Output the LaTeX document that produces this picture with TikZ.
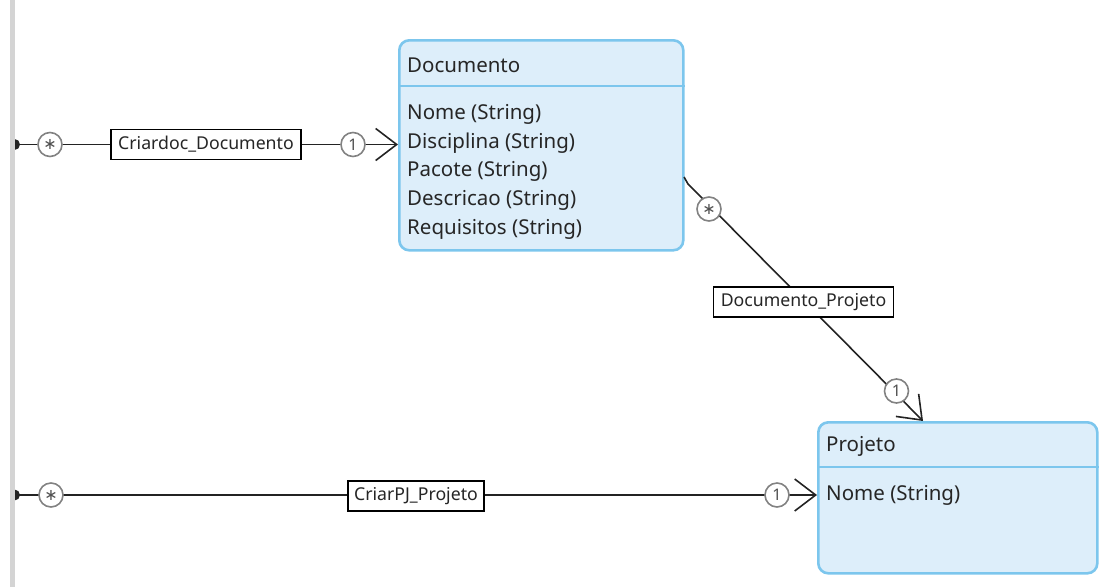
\documentclass[tikz,border=0pt]{standalone}
\usepackage{fontspec}
\setmainfont{Noto Sans}
\newfontfamily\symfont{DejaVu Sans}
\usetikzlibrary{arrows.meta}

\definecolor{classfill}{RGB}{221,238,250}
\definecolor{classedge}{RGB}{124,198,237}
\definecolor{multedge}{RGB}{130,130,130}
\definecolor{multtext}{RGB}{80,80,80}
\definecolor{linkcol}{RGB}{35,35,35}
\definecolor{barcol}{RGB}{212,212,212}

\tikzset{
  classbox/.style={draw=classedge, fill=classfill, line width=2.6pt,
    rounded corners=10pt, rectangle, inner sep=0pt, anchor=north west},
  classrule/.style={draw=classedge, line width=2.2pt},
  classtext/.style={anchor=west, inner sep=0pt, text=black!85,
    font=\fontsize{20.5}{24}\selectfont},
  link/.style={draw=linkcol, line width=1.6pt},
  linkend/.style={link, -{Straight Barb[length=21pt,width=32pt,line width=1.6pt]}},
  mult/.style={circle, draw=multedge, fill=white, line width=1.6pt,
    minimum size=24pt, inner sep=0pt, text=multtext,
    font=\fontsize{16}{16}\selectfont},
  rolelabel/.style={draw=black, fill=white, line width=1.3pt, rectangle,
    inner xsep=5pt, minimum height=30pt, text=black!85,
    font=\fontsize{17.7}{20}\selectfont},
  startdot/.style={fill=linkcol},
}

\begin{document}
\begin{tikzpicture}[x=1pt, y=-1pt]
\useasboundingbox (0,0) rectangle (1099,587);

% ---- classes ----
\node[classbox, minimum width=284pt, minimum height=210pt] (doc) at (398,39) {};
\draw[classrule] (doc.west |- 0,86) -- (doc.east |- 0,86);
\node[classtext] (docname) at (407,65) {Documento};
\node[classtext] (a1) at (407,114.5) {Nome (String)};
\node[classtext] (a2) at (407,143) {Disciplina (String)};
\node[classtext] (a3) at (407,171.5) {Pacote (String)};
\node[classtext] (a4) at (407,200) {Descricao (String)};
\node[classtext] (a5) at (407,229) {Requisitos (String)};

\node[classbox, minimum width=279pt, minimum height=151pt] (proj) at (817,421) {};
\draw[classrule] (proj.west |- 0,467) -- (proj.east |- 0,467);
\node[classtext] (projname) at (826,446) {Projeto};
\node[classtext] (p1) at (826,495.5) {Nome (String)};

% ---- Criardoc_Documento ----
\coordinate (s1) at (14.5,144.5);
\draw[linkend] (s1) -- (doc.west |- s1);
\fill[startdot] (s1) ++(0,-5.5) arc[start angle=-90, end angle=90, radius=5.5] -- cycle;
\node[mult] (m1a) at (50,144.5) {\symfont ∗};
\node[rolelabel, minimum width=190pt] (r1) at (206,144.5) {Criardoc\_Documento};
\node[mult] (m1b) at (353,144.5) {1};

% ---- CriarPJ_Projeto ----
\coordinate (s2) at (14.5,495);
\draw[linkend] (s2) -- (proj.west |- s2);
\fill[startdot] (s2) ++(0,-5.5) arc[start angle=-90, end angle=90, radius=5.5] -- cycle;
\node[mult] (m2a) at (51,495) {\symfont ∗};
\node[rolelabel, minimum width=136pt] (r2) at (416,496) {CriarPJ\_Projeto};
\node[mult] (m2b) at (777,495) {1};

% ---- Documento_Projeto ----
\coordinate (d0) at (684,177);
\draw[linkend] (d0) .. controls (686,180) .. (688,184) -- (proj.north -| 923,0);
\node[mult] (m3a) at (709,209) {\symfont ∗};
\node[rolelabel, minimum width=180pt] (r3) at (803.5,302) {Documento\_Projeto};
\node[mult] (m3b) at (896.5,391) {1};

% ---- left margin bar ----
\fill[barcol] (10,0) rectangle (14.5,587);
\end{tikzpicture}
\end{document}
